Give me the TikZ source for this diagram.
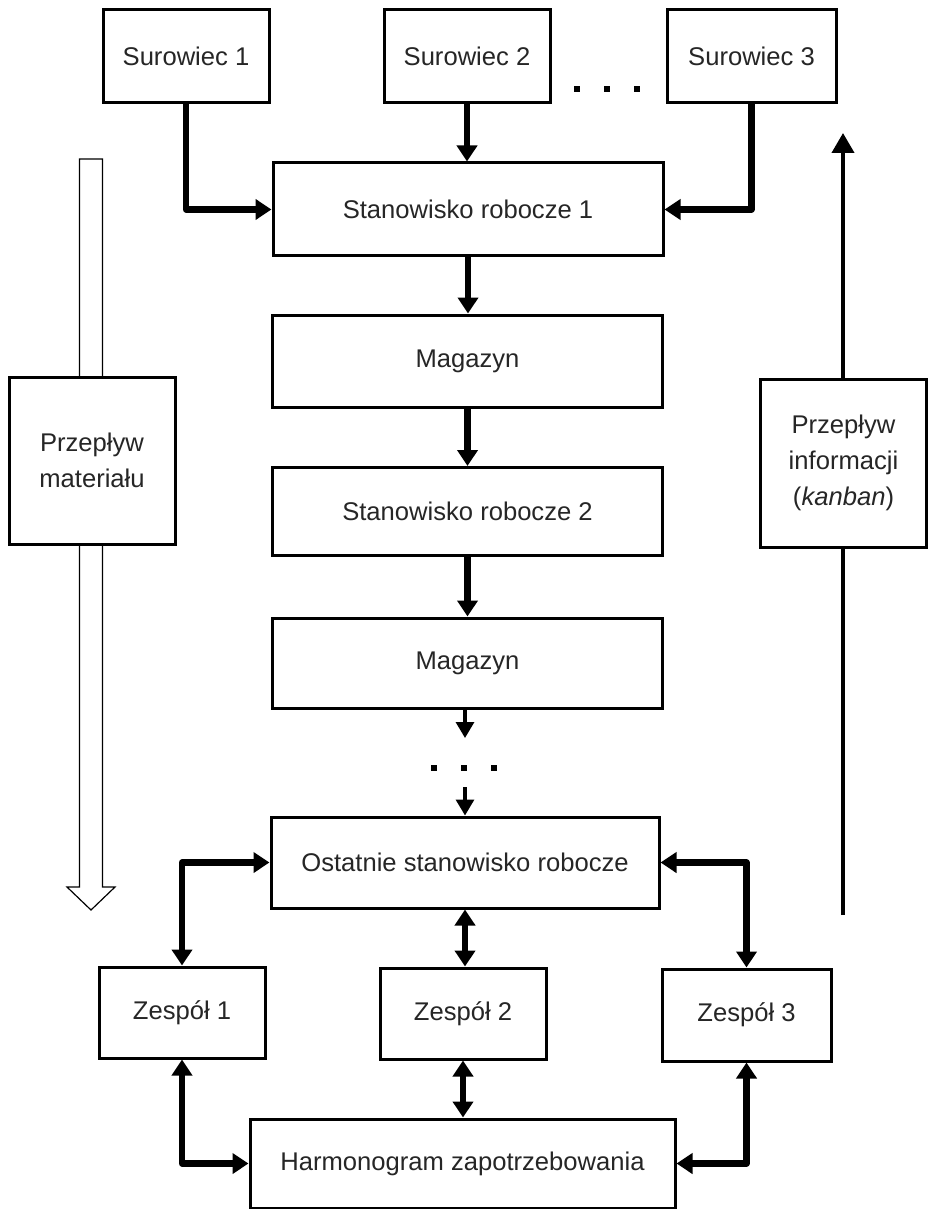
\documentclass[tikz,border=0pt]{standalone}
\usepackage{fontspec}
\setmainfont{Liberation Sans}
\usetikzlibrary{arrows.meta,calc}
\begin{document}
\begin{tikzpicture}[x=0.5pt,y=-0.5pt,
  box/.style={draw, line width=1.5pt, fill=white, inner sep=2pt, align=center,
    font=\fontsize{12.8}{18}\selectfont, text=black!85},
  sbox/.style={box, minimum width=83pt, minimum height=46.5pt},
  wbox/.style={box, minimum width=195pt, minimum height=45.5pt},
  conn/.style={line width=3.2pt, line join=round, -{Triangle[length=8pt,width=10pt]}},
  conn2/.style={line width=3.2pt, line join=round,
    {Triangle[length=8pt,width=10pt]}-{Triangle[length=8pt,width=10pt]}},
  thinconn/.style={line width=1.6pt, -{Triangle[length=8pt,width=9pt]}},
  infoarrow/.style={line width=2pt, -{Triangle[length=10pt,width=11pt]}},
  hollow/.style={line width=0.6pt, fill=white, line join=miter},
  dotsnode/.style={inner sep=0pt, fill=none}
]
\useasboundingbox (0,0) rectangle (928,1209);

% hollow material-flow arrow (drawn first, box covers it)
\coordinate (mtop) at (91,159);
\coordinate (mbase) at (91,887);
\coordinate (mtip) at (91,910);
\draw[hollow] ($(mtop)+(-11.5,0)$) -- ($(mtop)+(11.5,0)$) -- ($(mbase)+(11.5,0)$)
  -- ($(mbase)+(24,0)$) -- (mtip) -- ($(mbase)+(-24,0)$) -- ($(mbase)+(-11.5,0)$) -- cycle;

% information-flow arrow
\coordinate (ibot) at (843,915);
\coordinate (itop) at (843,133);
\draw[infoarrow] (ibot) -- (itop);

% nodes
\node[sbox] (S1) at (186,56) {Surowiec 1};
\node[sbox] (S2) at (467,56) {Surowiec 2};
\node[sbox, minimum width=84.5pt] (S3) at (751.5,56) {Surowiec 3};
\node[dotsnode] (hd) at (607,89) {\rule{2.6pt}{2.6pt}\hspace{12.4pt}\rule{2.6pt}{2.6pt}\hspace{12.4pt}\rule{2.6pt}{2.6pt}};

\node[wbox, minimum height=46.5pt] (SR1) at (468,209.5) {Stanowisko robocze 1};
\node[wbox, minimum height=46pt] (M1) at (467.5,361) {Magazyn};
\node[wbox, minimum height=44pt] (SR2) at (467.5,511.5) {Stanowisko robocze 2};
\node[wbox, minimum height=45pt] (M2) at (467.5,663) {Magazyn};
\node[dotsnode] (vd) at (464,768) {\rule{2.6pt}{2.6pt}\hspace{12.4pt}\rule{2.6pt}{2.6pt}\hspace{12.4pt}\rule{2.6pt}{2.6pt}};
\node[wbox, minimum width=194pt] (Ost) at (465,862.5) {Ostatnie stanowisko robocze};

\node[sbox, minimum height=45.5pt] (Z1) at (182,1012.5) {Zesp\'o\l{} 1};
\node[sbox, minimum height=45.5pt] (Z2) at (463,1013.5) {Zesp\'o\l{} 2};
\node[sbox, minimum width=84.5pt, minimum height=46pt] (Z3) at (746.5,1015) {Zesp\'o\l{} 3};
\node[box, minimum width=212.5pt, minimum height=44.5pt] (H) at (462.5,1163.5) {Harmonogram zapotrzebowania};

\node[box, minimum width=83pt, minimum height=83.5pt] (MB) at (92,460.5) {Przep\l{}yw\\materia\l{}u};
\node[box, minimum width=83pt, minimum height=84pt] (IB) at (843.5,463) {Przep\l{}yw\\informacji\\(\textit{kanban})};

% connectors
\draw[conn] (S1) |- (SR1);
\draw[conn] (S3) |- (SR1);
\draw[conn] (S2.south) -- (S2.south |- SR1.north);
\draw[conn] (SR1.south) -- (SR1.south |- M1.north);
\draw[conn] (M1.south) -- (M1.south |- SR2.north);
\draw[conn] (SR2.south) -- (SR2.south |- M2.north);

\coordinate (d1) at (465,738);
\coordinate (d2) at (465,787);
\draw[thinconn] (d1 |- M2.south) -- (d1);
\draw[thinconn] (d2) -- (d2 |- Ost.north);

\draw[conn2] (Ost) -| (Z1);
\draw[conn2] (Ost) -| (Z3);
\draw[conn2] (Ost.south) -- (Ost.south |- Z2.north);

\draw[conn2] (Z1) |- (H);
\draw[conn2] (Z3) |- (H);
\draw[conn2] (Z2.south) -- (Z2.south |- H.north);
\end{tikzpicture}
\end{document}
